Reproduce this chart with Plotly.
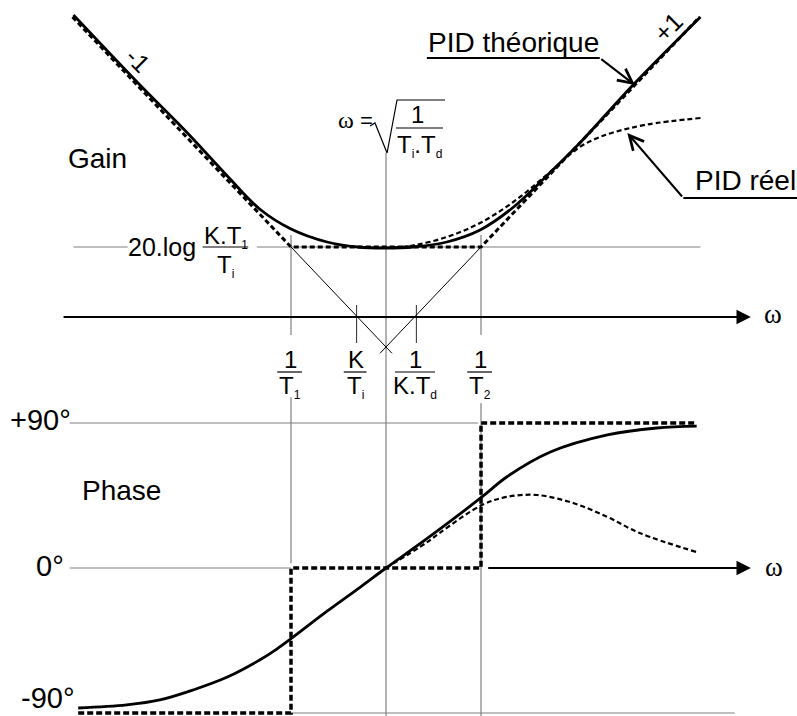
import plotly.graph_objects as go

# ---------------------------------------------------------------------------
# Data: frequency in decades relative to w0 = 1/sqrt(Ti.Td), gain in dB,
# phase in degrees.
# ---------------------------------------------------------------------------
w_T1, w_KTi, w_KTd, w_T2 = -1.0, -0.31, 0.32, 1.0
gain_mid_db = 14.0          # 20.log(K.T1/Ti)
asym_slope = 20.0           # dB per decade

gain_th_w = [-3.29, -2.6, -2.09, -1.67, -1.33, -1.0, -0.62, -0.3, 0.0,
             0.28, 0.64, 0.99, 1.33, 1.69, 2.04, 2.6, 3.31]
gain_th_db = [60.4, 46.6, 36.8, 28.2, 21.6, 17.6, 15.0, 14.0, 13.8,
              14.0, 15.0, 17.4, 21.8, 28.2, 34.8, 46.4, 60.0]

gain_asym_w = [-3.3, w_T1, w_T2, 3.3]
gain_asym_db = [60.0, gain_mid_db, gain_mid_db, 60.0]

gain_real_w = [0.0, 0.28, 0.64, 0.99, 1.34, 1.69, 1.88, 2.04, 2.2, 2.39, 2.75, 3.31]
gain_real_db = [13.8, 14.3, 16.0, 18.8, 23.0, 28.4, 31.6, 34.0, 35.6, 36.9, 38.5, 39.8]

phase_th_w = [-3.24, -2.73, -2.38, -2.03, -1.67, -1.33, -1.15, -0.99, -0.62,
              -0.27, 0.0, 0.43, 1.01, 1.27, 1.73, 2.33, 2.85, 3.27]
phase_th_deg = [-86.9, -85.0, -81.9, -75.7, -67.7, -57.1, -50.3, -43.4, -26.8,
                -11.8, 0.0, 18.2, 44.1, 56.5, 72.0, 82.6, 86.9, 88.1]

phase_asym_w = [-3.24, w_T1, w_T1, w_T2, w_T2, 3.27]
phase_asym_deg = [-90, -90, 0, 0, 90, 90]

phase_real_w = [0.0, 0.42, 0.57, 1.01, 1.27, 1.59, 1.97, 2.33, 2.67, 3.27]
phase_real_deg = [0.0, 15.5, 22.0, 39.1, 44.1, 45.3, 40.3, 31.7, 21.7, 9.9]

tick_w = [w_T1, w_KTi, w_KTd, w_T2]
tick_num = ["1", "K", "1", "1"]
tick_den = [("T", "1"), ("T", "i"), ("K.T", "d"), ("T", "2")]

phase_levels = [90, 0, -90]
phase_level_text = ["+90°", "0°", "-90°"]

# ---------------------------------------------------------------------------
SANS = "Liberation Sans, Arial, sans-serif"
SERIF = "Liberation Serif, Times New Roman, serif"
GREY = "#808080"
BLACK = "#000000"

fig = go.Figure()


def sub(base, idx):
    return f"{base}<sub><span style='font-size:12px'>{idx}</span></sub>"


def line(x, y, yaxis="y", color=BLACK, width=1.2, dash="solid", shape="linear"):
    fig.add_trace(go.Scatter(
        x=x, y=y, yaxis=yaxis, mode="lines", hoverinfo="skip", showlegend=False,
        line=dict(color=color, width=width, dash=dash, shape=shape, smoothing=1.0),
    ))


def text(x, y, s, size=24, yref="y", family=SANS, angle=0, xanchor="center", yanchor="middle"):
    fig.add_annotation(x=x, y=y, xref="x", yref=yref, text=s, showarrow=False,
                       textangle=angle, xanchor=xanchor, yanchor=yanchor,
                       font=dict(family=family, size=size, color=BLACK))


def arrow(x0, y0, x1, y1, head, width, size, yref="y"):
    fig.add_annotation(x=x1, y=y1, ax=x0, ay=y0, xref="x", yref=yref,
                       axref="x", ayref=yref, text="", showarrow=True,
                       arrowhead=head, arrowwidth=width, arrowsize=size,
                       arrowcolor=BLACK, standoff=0, startstandoff=0)


# ---------------- gain diagram ----------------
# reference level 20.log(K.T1/Ti)
line([-3.29, -2.72], [gain_mid_db] * 2, color=GREY)
line([-1.36, 3.31], [gain_mid_db] * 2, color=GREY)

# construction verticals
for w in (w_T1, w_T2):
    line([w, w], [16.4, -3.6], color=GREY)
for w in (w_KTi, w_KTd):
    line([w, w], [2.4, -5.2], color="#404040", width=1.1)
line([0, 0], [32.8, -79.8], color=GREY)

# -1 / +1 asymptotes prolonged below the 0 dB axis
x_end = 0.063
line([w_T1, x_end], [gain_mid_db, gain_mid_db - asym_slope * (x_end - w_T1)], width=1)
line([w_T2, -x_end], [gain_mid_db, gain_mid_db - asym_slope * (w_T2 + x_end)], width=1)

# 0 dB axis
arrow(-3.41, 0, 3.84, 0, head=2, width=2.2, size=1.3)

# curves
line(gain_asym_w, gain_asym_db, width=3, dash="5px,3px")
line(gain_real_w, gain_real_db, width=2.2, dash="5px,3px", shape="spline")
line(gain_th_w, gain_th_db, width=2.8, shape="spline")

# ---------------- phase diagram ----------------
line([-3.33, 0.97], [90, 90], yaxis="y2", color=GREY)
line([-3.33, w_T1], [0, 0], yaxis="y2", color=GREY)
line([-0.99, 3.67], [-90, -90], yaxis="y2", color=GREY)
line([w_T1, w_T1], [106, 3], yaxis="y2", color=GREY)
line([w_T2, w_T2], [102.4, -91.8], yaxis="y2", color=GREY)

arrow(1.06, 0, 3.84, 0, head=2, width=2.2, size=1.3, yref="y2")

line(phase_asym_w, phase_asym_deg, yaxis="y2", width=3.5, dash="6px,3px")
line(phase_real_w, phase_real_deg, yaxis="y2", width=2.2, dash="5px,3px", shape="spline")
line(phase_th_w, phase_th_deg, yaxis="y2", width=2.8, shape="spline")

# ---------------- labels ----------------
text(-3.04, 31.8, "Gain", size=28)
text(-2.78, 47.8, "Phase", size=28, yref="y2")
text(-2.61, 51.4, "-1", size=25, angle=45)
text(2.97, 58.0, "+1", size=25, angle=-45)

# 20.log K.T1/Ti
text(-2.36, gain_mid_db, "20.log", size=25)
text(-1.68, 12.7, sub("K.T", "1"), size=24, yanchor="bottom")
line([-1.93, -1.45], [gain_mid_db] * 2, width=1.2)
text(-1.69, 13.6, sub("T", "i"), size=24, yanchor="top")

# w0 = sqrt(1/(Ti.Td))
text(-0.316, 39.4, "ω", size=24, family=SERIF, xanchor="right")
text(-0.295, 39.4, "=", size=22, xanchor="left")
line([-0.168, -0.116, 0.011, 0.116, 0.621], [38.2, 38.8, 32.8, 43.4, 43.4], width=1.2)
text(0.33, 37.4, "1", size=24, yanchor="bottom")
line([0.105, 0.6], [37.8, 37.8], width=1.2)
text(0.35, 37.6, sub("T", "i") + "." + sub("T", "d"), size=24, yanchor="top")

# break-frequency fractions under the gain axis
bar_half = [0.13, 0.12, 0.21, 0.13]
for w, num, (db, ds), hw in zip(tick_w, tick_num, tick_den, bar_half):
    text(w - 0.01, -11.6, num, size=24, yanchor="bottom")
    line([w - 0.015 - hw, w - 0.015 + hw], [-11.0, -11.0], width=1.2)
    text(w - 0.01, -10.6, sub(db, ds), size=24, yanchor="top")

# axis names
text(4.07, 0.6, "ω", size=27, family=SERIF)
text(4.08, 0.6, "ω", size=27, family=SERIF, yref="y2")

# phase levels (the lowest one sits against the bottom edge)
level_x = [-3.64, -3.54, -3.56]
level_y = [91.9, 1.2, -91.6]
level_yanchor = ["middle", "middle", "bottom"]
for s, xc, yc, ya in zip(phase_level_text, level_x, level_y, level_yanchor):
    text(xc, yc, s, size=29, yref="y2", yanchor=ya)

# call-outs
line([0.43, 2.25], [51.8, 51.8], width=2)
arrow(2.25, 51.8, 2.62, 46.4, head=5, width=2, size=1.4)
text(1.34, 55.0, "PID théorique", size=28)

line([3.13, 4.33], [23.8, 23.8], width=2)
arrow(3.13, 23.8, 2.54, 36.8, head=5, width=2, size=1.4)
text(3.78, 27.4, "PID réel", size=28)

fig.update_layout(
    width=797, height=716,
    margin=dict(l=0, r=0, t=0, b=0),
    paper_bgcolor="white", plot_bgcolor="white",
    xaxis=dict(range=[-4.063, 4.326], visible=False, fixedrange=True),
    yaxis=dict(range=[-79.8, 63.4], visible=False, fixedrange=True),
    yaxis2=dict(range=[-91.86, 352.55], overlaying="y", visible=False, fixedrange=True),
    showlegend=False,
)

fig.write_html("out.html")
